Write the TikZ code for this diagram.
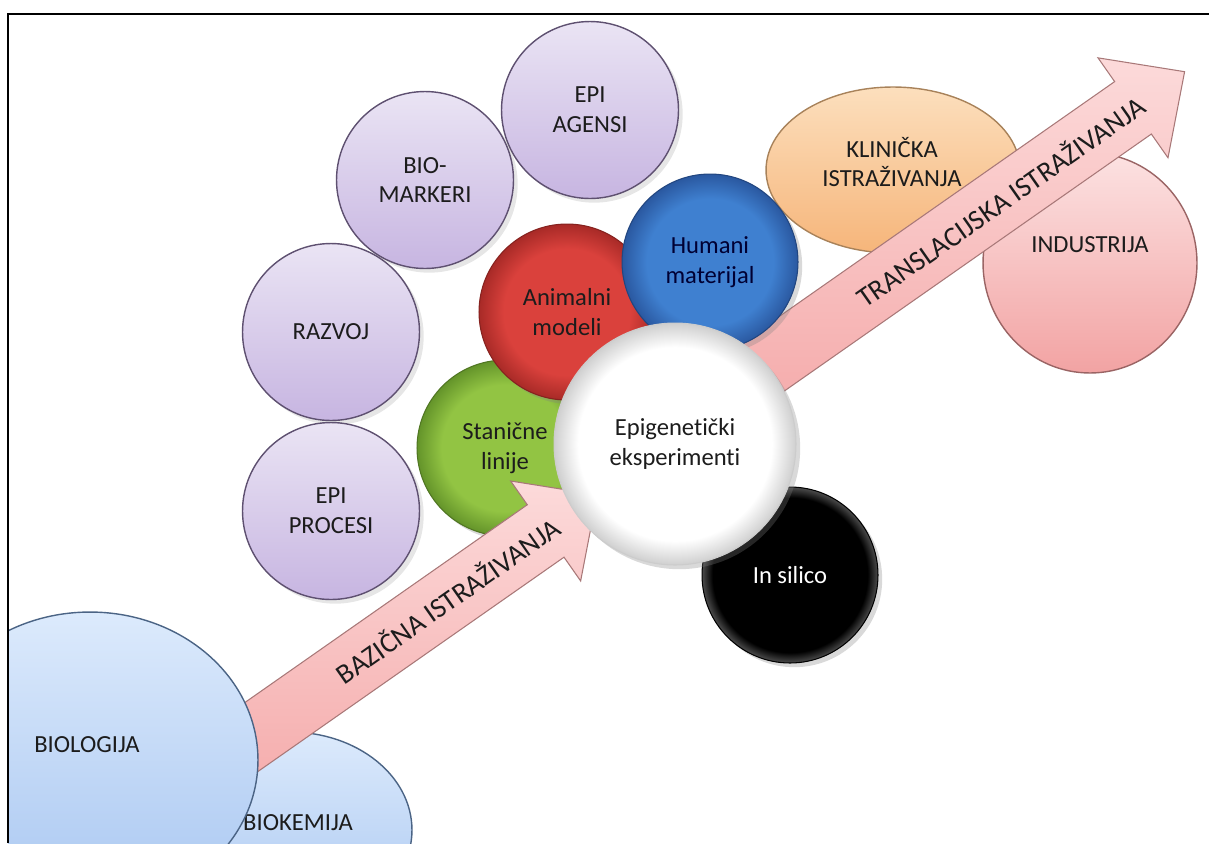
\documentclass[tikz,border=0pt]{standalone}
\usepackage{fontspec}
\setmainfont{Carlito}[Ligatures={NoCommon}]
\usepackage{tikz}
\usetikzlibrary{shapes.geometric, shadows}
\definecolor{lavtop}{HTML}{EAE4F4}
\definecolor{lavbot}{HTML}{C7B5E1}
\definecolor{lavline}{HTML}{5E5070}
\definecolor{skytop}{HTML}{DCEAFC}
\definecolor{skybot}{HTML}{A9C7F1}
\definecolor{skyline}{HTML}{4B6485}
\definecolor{peachtop}{HTML}{FCDFBD}
\definecolor{peachbot}{HTML}{F6B57A}
\definecolor{peachline}{HTML}{A8825A}
\definecolor{rosetop}{HTML}{FCE2E2}
\definecolor{rosebot}{HTML}{F2A3A3}
\definecolor{roseline}{HTML}{9A6464}
\definecolor{bandtop}{HTML}{FCDADA}
\definecolor{bandbot}{HTML}{F4A6A6}
\definecolor{bandline}{HTML}{A87878}
\definecolor{redin}{HTML}{DA413C}
\definecolor{redout}{HTML}{A82A27}
\definecolor{bluein}{HTML}{3F80D0}
\definecolor{blueout}{HTML}{2A58A0}
\definecolor{greenin}{HTML}{92C443}
\definecolor{greenout}{HTML}{64942A}
\definecolor{whiteout}{HTML}{CFCFCF}
\definecolor{txt}{HTML}{1C1C1C}
% glossy balls: flat centre, darker rim
\pgfdeclareradialshading{redball}{\pgfpoint{0bp}{0bp}}{color(0bp)=(redin);
  color(18bp)=(redin); color(25bp)=(redout); color(50bp)=(redout)}
\pgfdeclareradialshading{blueball}{\pgfpoint{0bp}{0bp}}{color(0bp)=(bluein);
  color(18bp)=(bluein); color(25bp)=(blueout); color(50bp)=(blueout)}
\pgfdeclareradialshading{greenball}{\pgfpoint{0bp}{0bp}}{color(0bp)=(greenin);
  color(18bp)=(greenin); color(25bp)=(greenout); color(50bp)=(greenout)}
\pgfdeclareradialshading{pearlball}{\pgfpoint{0bp}{0bp}}{color(0bp)=(white);
  color(20bp)=(white); color(25bp)=(whiteout); color(50bp)=(whiteout)}
\pgfdeclareradialshading{inkball}{\pgfpoint{0bp}{0bp}}{color(0bp)=(black);
  color(22bp)=(black); color(25bp)=(black!70); color(50bp)=(black!70)}

\begin{document}
\begin{tikzpicture}[x=0.02cm, y=-0.02cm,
    lbl/.style={font=\fontsize{14}{17}\selectfont, text=txt, align=center},
    epibubble/.style={circle, draw=lavline, line width=0.8pt,
      top color=lavtop, bottom color=lavbot, minimum size=3.54cm,
      inner sep=0pt, lbl, drop shadow={opacity=0.2}},
    ball/.style={circle, line width=0.6pt, minimum size=3.52cm,
      inner sep=0pt, lbl, shade, drop shadow={opacity=0.3}},
    field/.style={ellipse, line width=0.8pt, inner sep=0pt},
    band/.style={draw=bandline, line width=0.6pt,
      top color=bandtop, bottom color=bandbot},
    bandtxt/.style={font=\fontsize{16}{19}\selectfont, text=txt, rotate=35}]
  \useasboundingbox (0,0) rectangle (1209,843);
  \begin{scope}
    \clip (8,14) rectangle (1209,843);
    % Applied fields, right
    \node[field, draw=peachline, top color=peachtop, bottom color=peachbot,
      minimum width=5.08cm, minimum height=3.32cm] (klinicka) at (893,170) {};
    \node[lbl] (klinickatxt) at (892,162) {KLINIČKA\\ISTRAŽIVANJA};
    \node[field, draw=roseline, top color=rosetop, bottom color=rosebot,
      minimum width=4.28cm, minimum height=4.4cm] (industrija) at (1090,263) {};
    \node[lbl] (industrijatxt) at (1090,245) {INDUSTRIJA};
    % Translational band
    \begin{scope}[shift={(680,425)}, rotate=35]
      \draw[band] (0,-32) -- (553,-32) -- (553,-61) -- (616,0)
        -- (553,61) -- (553,32) -- (0,32) -- cycle;
      \node[bandtxt] (transtxt) at (391,0) {TRANSLACIJSKA ISTRAŽIVANJA};
    \end{scope}
    % Topic bubbles
    \node[epibubble] (epiagensi) at (590,110) {EPI\\AGENSI};
    \node[epibubble] (biomarkeri) at (425,180) {BIO-\\MARKERI};
    \node[epibubble] (razvoj) at (331,332) {RAZVOJ};
    \node[epibubble] (epiprocesi) at (331,511) {EPI\\PROCESI};
    % Experimental models
    \node[ball, draw=greenout!80!black, shading=greenball]
      (stanicne) at (505,448) {Stanične\\linije};
    \node[ball, draw=redout!80!black, shading=redball]
      (animalni) at (567,312) {Animalni\\modeli};
    \node[ball, draw=blueout!80!black, shading=blueball,
      text=blue!20!black] (humani) at (710,262) {Humani\\materijal};
    \node[ball, draw=black, shading=inkball, text=white]
      (insilico) at (790,575) {In silico};
    % Basic fields, bottom left
    \node[field, draw=skyline, top color=skytop, bottom color=skybot,
      minimum width=4.88cm, minimum height=3.92cm] (biokemija) at (290,830) {};
    \node[lbl] (biokemijatxt) at (298,823) {BIOKEMIJA};
    % Basic band
    \begin{scope}[shift={(150,808)}, rotate=35]
      \draw[band] (0,-32) -- (483,-32) -- (483,-61) -- (546,0)
        -- (483,61) -- (483,32) -- (0,32) -- cycle;
      \node[bandtxt] (baztxt) at (363,0) {BAZIČNA ISTRAŽIVANJA};
    \end{scope}
    \node[field, draw=skyline, top color=skytop, bottom color=skybot,
      minimum width=6.72cm, minimum height=5.92cm] (biologija) at (90,760) {};
    \node[lbl] (biologijatxt) at (87,745) {BIOLOGIJA};
    % Centre
    \node[ball, draw=black!20, shading=pearlball, minimum size=4.84cm]
      (epigen) at (675,444) {Epigenetički\\eksperimenti};
  \end{scope}
  % Frame
  \draw[line width=1.6pt] (8,843) -- (8,14) -- (1209,14);
\end{tikzpicture}
\end{document}
